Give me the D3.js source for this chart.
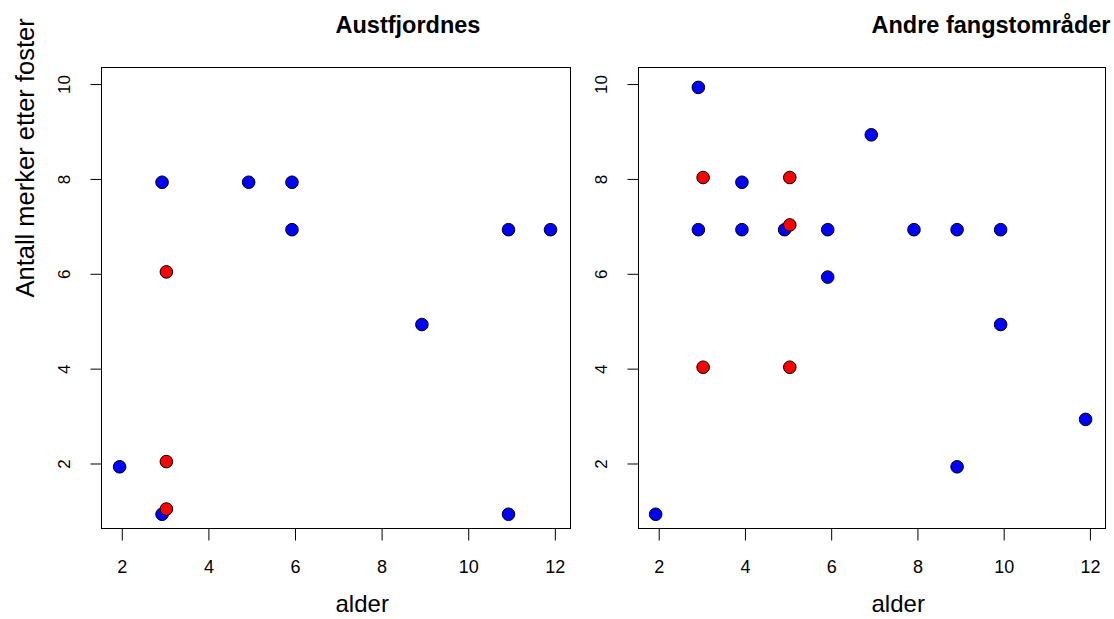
<!DOCTYPE html>
<html>
<head>
<meta charset="utf-8">
<script src="https://cdn.jsdelivr.net/npm/d3@7"></script>
<style>
  body { margin: 0; background: #fff; }
  text { font-family: "Liberation Sans", Arial, sans-serif; fill: #000; }
</style>
</head>
<body>
<svg id="chart" width="1114" height="619"></svg>
<script>
// panel titles and axis labels
const titles = ["Austfjordnes", "Andre fangstområder"];
const xLabel = "alder";
const yLabel = "Antall merker etter foster";
const xTicks = [2, 4, 6, 8, 10, 12];
const yTicks = [2, 4, 6, 8, 10];

// Austfjordnes
const austBlueAge = [1.95, 2.93, 2.93, 4.93, 5.93, 5.93, 8.93, 10.93, 10.93, 11.9];
const austBlueN   = [1.93, 0.93, 7.93, 7.93, 7.93, 6.93, 4.93, 6.93, 0.93, 6.93];
const austRedAge  = [3.03, 3.03, 3.03];
const austRedN    = [6.04, 2.04, 1.04];

// Andre fangstområder
const andreBlueAge = [1.93, 2.92, 2.92, 3.93, 3.93, 4.92, 5.92, 5.92, 6.93, 7.92, 8.92, 8.92, 9.93, 9.93, 11.9];
const andreBlueN   = [0.93, 9.93, 6.93, 7.93, 6.93, 6.93, 6.93, 5.93, 8.93, 6.93, 6.93, 1.93, 6.93, 4.93, 2.93];
const andreRedAge  = [3.03, 3.03, 5.04, 5.04, 5.04];
const andreRedN    = [8.03, 4.03, 8.03, 7.03, 4.03];

const panels = [
    { title: titles[0], blue: d3.zip(austBlueAge, austBlueN), red: d3.zip(austRedAge, austRedN), left: 101, right: 570, yLab: true },
    { title: titles[1], blue: d3.zip(andreBlueAge, andreBlueN), red: d3.zip(andreRedAge, andreRedN), left: 638, right: 1105, yLab: false }
];

const plotTop = 67, plotBottom = 528;
const svg = d3.select("#chart");

panels.forEach(function (p) {
    const x = d3.scaleLinear().domain([1.52, 12.35]).range([p.left, p.right]);
    const y = d3.scaleLinear().domain([0.64, 10.36]).range([plotBottom, plotTop]);
    const mid = (p.left + p.right) / 2;

    const g = svg.append("g");

    // box
    g.append("rect")
        .attr("x", p.left + 0.5).attr("y", plotTop + 0.5)
        .attr("width", p.right - p.left).attr("height", plotBottom - plotTop)
        .attr("fill", "none").attr("stroke", "#000").attr("stroke-width", 1);

    // x axis
    const xa = g.append("g").attr("transform", "translate(0," + (plotBottom + 0.5) + ")")
        .call(d3.axisBottom(x).tickValues(xTicks).tickSize(12).tickPadding(20).tickSizeOuter(0));
    xa.select(".domain").remove();
    xa.selectAll(".tick line").attr("stroke", "#000");
    xa.selectAll(".tick text")
        .style("font-family", "Liberation Sans, Arial, sans-serif")
        .style("font-size", "18px");

    // y axis, labels parallel to axis
    const ya = g.append("g").attr("transform", "translate(" + (p.left + 0.5) + ",0)")
        .call(d3.axisLeft(y).tickValues(yTicks).tickSize(11).tickSizeOuter(0));
    ya.select(".domain").remove();
    ya.selectAll(".tick line").attr("stroke", "#000");
    ya.selectAll(".tick text")
        .attr("x", null).attr("dy", null)
        .attr("text-anchor", "middle")
        .attr("transform", "translate(-32,0) rotate(-90)")
        .style("font-family", "Liberation Sans, Arial, sans-serif")
        .style("font-size", "17px");

    // points: blue first, red on top
    g.selectAll(".blue").data(p.blue).enter().append("circle")
        .attr("cx", d => x(d[0])).attr("cy", d => y(d[1])).attr("r", 6.3)
        .attr("fill", "#0000ff").attr("stroke", "#000").attr("stroke-width", 1);
    g.selectAll(".red").data(p.red).enter().append("circle")
        .attr("cx", d => x(d[0])).attr("cy", d => y(d[1])).attr("r", 6.3)
        .attr("fill", "#ff0000").attr("stroke", "#000").attr("stroke-width", 1);

    // title
    g.append("text").attr("x", mid).attr("y", 33)
        .attr("font-weight", "bold").attr("font-size", 23.5)
        .text(p.title);

    // x label
    g.append("text").attr("x", mid).attr("y", 612)
        .attr("font-size", 24)
        .text(xLabel);

    if (p.yLab) {
        g.append("text")
            .attr("transform", "translate(34," + ((plotTop + plotBottom) / 2) + ") rotate(-90)")
            .attr("font-size", 25.5)
            .text(yLabel);
    }
});
</script>
</body>
</html>
